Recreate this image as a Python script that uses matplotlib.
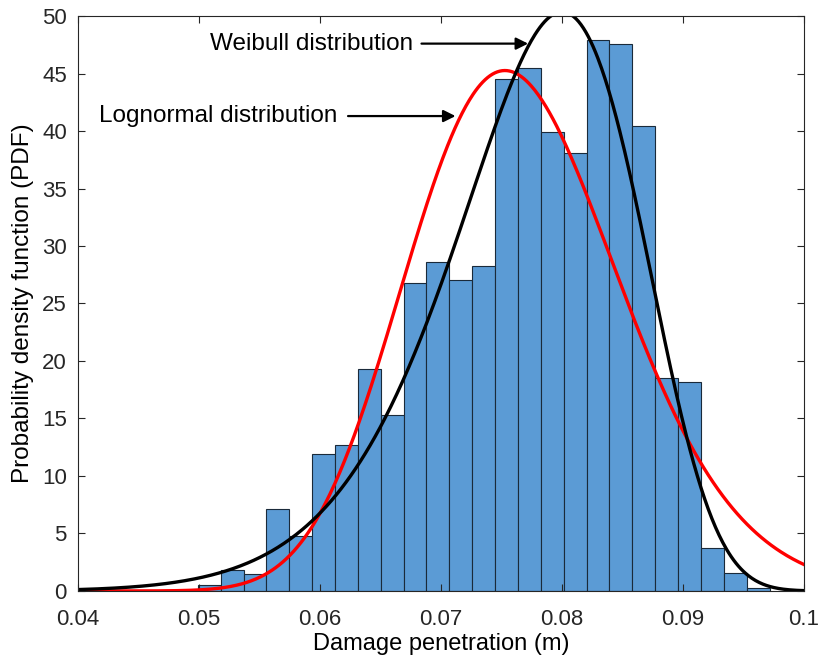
import numpy as np
import matplotlib
matplotlib.use("Agg")
import matplotlib.pyplot as plt

plt.rcParams["font.family"] = ["Liberation Sans", "DejaVu Sans"]

# histogram (density)
bin_start = 0.0499
bin_width = 0.00189
pdf_heights = [0.5, 1.8, 1.5, 7.1, 4.75, 11.9, 12.7, 19.3, 15.3, 26.8,
               28.6, 27.0, 28.3, 44.5, 45.5, 39.9, 38.1, 47.9, 47.6, 40.4,
               18.5, 18.2, 3.7, 1.6, 0.3]

# fitted distribution parameters (estimated from the curves)
weibull_scale = 0.0807
weibull_shape = 11.0
logn_mu = -2.573
logn_sigma = 0.1163

edges = bin_start + bin_width * np.arange(len(pdf_heights) + 1)
x = np.linspace(0.04, 0.1, 600)
weibull_pdf = (weibull_shape / weibull_scale) * (x / weibull_scale) ** (weibull_shape - 1) \
    * np.exp(-(x / weibull_scale) ** weibull_shape)
logn_pdf = 1.0 / (x * logn_sigma * np.sqrt(2 * np.pi)) \
    * np.exp(-(np.log(x) - logn_mu) ** 2 / (2 * logn_sigma ** 2))

fig = plt.figure(figsize=(8.19, 6.62), dpi=100)
ax = fig.add_axes([0.0952, 0.1073, 0.8865, 0.8685])

ax.bar(edges[:-1], pdf_heights, width=bin_width, align="edge",
       color="#5b9bd5", edgecolor="#1a2a3a", linewidth=0.8)
ax.plot(x, logn_pdf, color="red", linewidth=2.4)
ax.plot(x, weibull_pdf, color="black", linewidth=2.4)

ax.annotate("Weibull distribution", xy=(0.0772, 47.6), xytext=(0.0677, 47.6),
            fontsize=17.5, ha="right", va="center",
            arrowprops=dict(arrowstyle="-|>", color="black", lw=1.6,
                            mutation_scale=18, shrinkA=4, shrinkB=0))
ax.annotate("Lognormal distribution", xy=(0.0712, 41.3), xytext=(0.0614, 41.3),
            fontsize=17.5, ha="right", va="center",
            arrowprops=dict(arrowstyle="-|>", color="black", lw=1.6,
                            mutation_scale=18, shrinkA=6, shrinkB=0))

ax.set_xlim(0.04, 0.1)
ax.set_ylim(0, 50)
ax.set_xticks([0.04, 0.05, 0.06, 0.07, 0.08, 0.09, 0.1])
ax.set_xticklabels(["0.04", "0.05", "0.06", "0.07", "0.08", "0.09", "0.1"])
ax.set_yticks(range(0, 51, 5))
ax.tick_params(direction="in", top=True, right=True, labelsize=16, length=5, colors="#262626")
ax.tick_params(axis="x", pad=13)
ax.tick_params(axis="y", pad=8)
for s in ax.spines.values():
    s.set_color("#262626")
    s.set_linewidth(0.8)

ax.set_xlabel("Damage penetration (m)", fontsize=17, labelpad=2)
ax.set_ylabel("Probability density function (PDF)", fontsize=17.5, labelpad=6)

fig.savefig("out.png", dpi=100)
